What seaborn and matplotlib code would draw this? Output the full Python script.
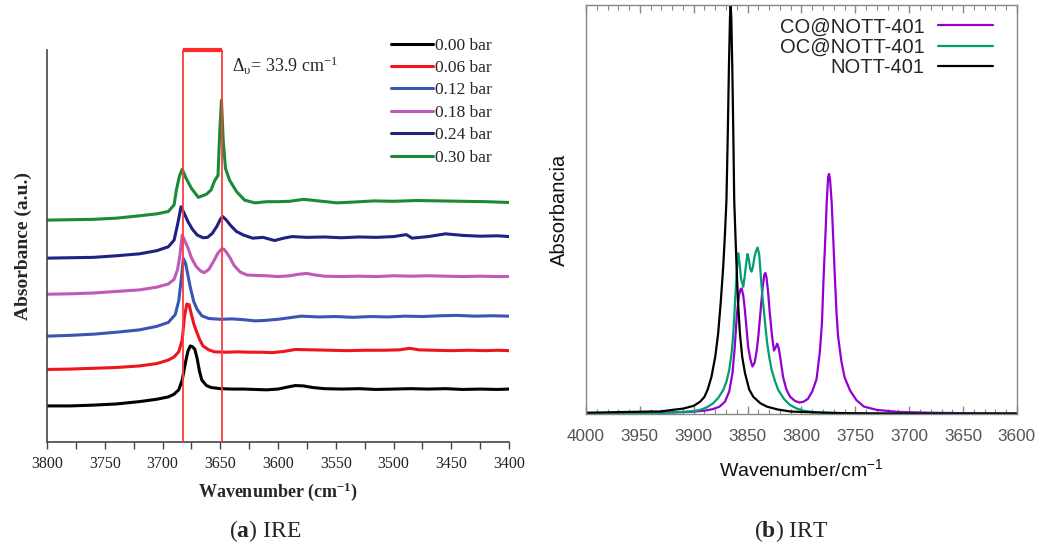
import numpy as np
import pandas as pd
import matplotlib
matplotlib.use("Agg")
import matplotlib.pyplot as plt
import seaborn as sns
from matplotlib.ticker import MultipleLocator

# ---------------- Panel (a) IRE : experimental spectra ----------------
ire_labels = ["0.00 bar", "0.06 bar", "0.12 bar", "0.18 bar", "0.24 bar", "0.30 bar"]
ire_colors = ["#000000", "#f0141c", "#3a55b4", "#c05ab8", "#1e2282", "#1a8a34"]

wn_000 = [3800, 3780, 3760, 3740, 3720, 3705, 3695, 3690, 3686, 3683, 3680, 3678, 3676, 3674, 3672, 3670,
          3668, 3666, 3662, 3658, 3650, 3640, 3630, 3620, 3610, 3600, 3592, 3585, 3578, 3570, 3560, 3545,
          3530, 3515, 3500, 3485, 3470, 3455, 3440, 3425, 3410, 3400]
ab_000 = [0.92, 0.92, 0.94, 0.97, 1.03, 1.09, 1.15, 1.22, 1.33, 1.58, 2.05, 2.32, 2.45, 2.43, 2.36, 2.12,
          1.80, 1.58, 1.44, 1.39, 1.36, 1.35, 1.35, 1.34, 1.33, 1.35, 1.40, 1.44, 1.43, 1.39, 1.36, 1.35,
          1.36, 1.34, 1.35, 1.36, 1.35, 1.36, 1.34, 1.35, 1.34, 1.35]

wn_006 = [3800, 3780, 3760, 3740, 3720, 3705, 3695, 3690, 3686, 3683, 3681, 3679, 3677, 3675, 3673, 3671,
          3668, 3665, 3660, 3655, 3645, 3635, 3625, 3615, 3605, 3595, 3585, 3570, 3555, 3540, 3525, 3510,
          3495, 3486, 3478, 3465, 3450, 3435, 3420, 3410, 3400]
ab_006 = [1.85, 1.86, 1.88, 1.90, 1.94, 2.00, 2.09, 2.17, 2.30, 2.60, 3.20, 3.52, 3.50, 3.25, 3.02, 2.85,
          2.62, 2.45, 2.35, 2.30, 2.29, 2.30, 2.29, 2.29, 2.28, 2.31, 2.36, 2.35, 2.34, 2.33, 2.34, 2.34,
          2.35, 2.39, 2.35, 2.34, 2.33, 2.34, 2.33, 2.34, 2.33]

wn_012 = [3800, 3780, 3760, 3740, 3720, 3705, 3695, 3689, 3686, 3684, 3682, 3680, 3678, 3676, 3673, 3670,
          3666, 3660, 3650, 3640, 3630, 3620, 3612, 3600, 3590, 3580, 3565, 3550, 3535, 3520, 3505, 3490,
          3475, 3460, 3445, 3430, 3415, 3400]
ab_012 = [2.70, 2.72, 2.75, 2.80, 2.86, 2.95, 3.05, 3.25, 3.60, 4.10, 4.68, 4.55, 4.25, 3.95, 3.58, 3.38,
          3.22, 3.15, 3.13, 3.14, 3.12, 3.09, 3.10, 3.13, 3.17, 3.21, 3.19, 3.20, 3.18, 3.20, 3.19, 3.21,
          3.20, 3.22, 3.23, 3.21, 3.22, 3.21]

wn_018 = [3800, 3780, 3760, 3740, 3720, 3705, 3695, 3690, 3687, 3685, 3683, 3681, 3678, 3675, 3671, 3667,
          3664, 3660, 3656, 3652, 3649, 3647, 3645, 3642, 3638, 3633, 3627, 3620, 3610, 3600, 3590, 3582,
          3575, 3568, 3560, 3545, 3530, 3515, 3500, 3485, 3470, 3455, 3440, 3425, 3410, 3400]
ab_018 = [3.77, 3.78, 3.80, 3.84, 3.88, 3.95, 4.03, 4.15, 4.40, 4.75, 5.28, 5.15, 4.95, 4.70, 4.48, 4.36,
          4.32, 4.40, 4.60, 4.82, 4.92, 4.92, 4.85, 4.72, 4.50, 4.34, 4.26, 4.25, 4.24, 4.22, 4.24, 4.28,
          4.30, 4.26, 4.23, 4.22, 4.23, 4.22, 4.24, 4.23, 4.24, 4.23, 4.22, 4.23, 4.22, 4.22]

wn_024 = [3800, 3780, 3760, 3740, 3720, 3705, 3695, 3690, 3687, 3684, 3681, 3678, 3674, 3670, 3665, 3661,
          3657, 3653, 3650, 3648, 3645, 3641, 3636, 3630, 3622, 3613, 3603, 3595, 3588, 3575, 3560, 3545,
          3530, 3515, 3500, 3489, 3484, 3470, 3455, 3440, 3425, 3410, 3400]
ab_024 = [4.69, 4.70, 4.71, 4.75, 4.80, 4.88, 4.98, 5.15, 5.55, 6.00, 5.82, 5.62, 5.42, 5.28, 5.21, 5.22,
          5.32, 5.50, 5.68, 5.75, 5.67, 5.52, 5.37, 5.28, 5.20, 5.22, 5.14, 5.20, 5.24, 5.22, 5.23, 5.21,
          5.23, 5.22, 5.24, 5.29, 5.20, 5.24, 5.31, 5.27, 5.25, 5.26, 5.24]

wn_030 = [3800, 3780, 3760, 3740, 3720, 3705, 3695, 3690, 3688, 3685.5, 3683, 3680, 3675, 3669, 3662, 3658,
          3655, 3652, 3650.5, 3649, 3647.5, 3645.5, 3642, 3636, 3629, 3620, 3610, 3600, 3590, 3578, 3565,
          3549, 3535, 3517, 3500, 3480, 3460, 3440, 3420, 3400]
ab_030 = [5.66, 5.67, 5.68, 5.71, 5.77, 5.82, 5.88, 6.05, 6.43, 6.77, 6.96, 6.75, 6.47, 6.24, 6.32, 6.43,
          6.66, 6.80, 7.90, 8.72, 7.70, 6.98, 6.68, 6.39, 6.17, 6.10, 6.13, 6.13, 6.14, 6.19, 6.15,
          6.10, 6.12, 6.15, 6.14, 6.16, 6.15, 6.14, 6.13, 6.11]

shift_bounds = [3682.4, 3648.5]   # red box marking the 33.9 cm-1 shift
shift_text = "Δ$_{υ}$= 33.9 cm$^{-1}$"

# ---------------- Panel (b) IRT : theoretical spectra ----------------
irt_labels = ["CO@NOTT-401", "OC@NOTT-401", "NOTT-401"]
irt_colors = ["#9400d3", "#009e73", "#000000"]

wn_co = [4000, 3960, 3930, 3905, 3890, 3882, 3876, 3871, 3867, 3864, 3862, 3860, 3858, 3856.5, 3855.5, 3854,
         3852.5, 3851, 3849.5, 3847.5, 3845.5, 3843.5, 3841.5, 3840, 3838, 3836, 3834.5, 3833.5, 3832.5, 3831,
         3829.5, 3827.5, 3825.5, 3823.5, 3822.5, 3821, 3819.5, 3817, 3814, 3810.5, 3806, 3802, 3798, 3794,
         3790, 3786, 3783, 3781, 3779.5, 3778, 3776.5, 3775.2, 3774.4, 3773.5, 3772, 3770.5, 3769, 3767.5,
         3766, 3763, 3760, 3755, 3749, 3742, 3730, 3710, 3680, 3650, 3600]
ab_co = [0.001, 0.002, 0.003, 0.005, 0.008, 0.012, 0.018, 0.03, 0.055, 0.10, 0.16, 0.24, 0.29, 0.305, 0.307, 0.29,
         0.255, 0.21, 0.165, 0.135, 0.116, 0.125, 0.155, 0.19, 0.25, 0.31, 0.34, 0.345, 0.335, 0.30,
         0.25, 0.195, 0.155, 0.165, 0.172, 0.16, 0.135, 0.09, 0.06, 0.042, 0.032, 0.028, 0.03, 0.037,
         0.055, 0.085, 0.15, 0.22, 0.33, 0.42, 0.52, 0.58, 0.587, 0.575, 0.52, 0.43, 0.336, 0.25,
         0.19, 0.13, 0.09, 0.058, 0.034, 0.018, 0.01, 0.005, 0.003, 0.002, 0.001]

wn_oc = [4000, 3960, 3930, 3910, 3900, 3894, 3888, 3882, 3877, 3872.5, 3869.5, 3867, 3865, 3863.7, 3862.5,
         3861.5, 3860, 3858.7, 3857.5, 3856, 3854, 3852.5, 3851, 3850, 3849, 3847.5, 3846.3, 3845, 3843.5,
         3842, 3840.7, 3839.2, 3837.7, 3836.3, 3834.9, 3833.3, 3831.8, 3829.8, 3827.7, 3824.5, 3821.6, 3816,
         3810.6, 3804, 3798, 3790, 3780, 3765, 3750, 3720, 3680, 3640, 3600]
ab_oc = [0.001, 0.002, 0.003, 0.005, 0.007, 0.01, 0.016, 0.026, 0.04, 0.059, 0.08, 0.108, 0.145, 0.181, 0.23,
         0.279, 0.35, 0.393, 0.37, 0.33, 0.311, 0.34, 0.375, 0.391, 0.38, 0.355, 0.348, 0.36, 0.385,
         0.40, 0.407, 0.39, 0.336, 0.29, 0.254, 0.21, 0.173, 0.138, 0.108, 0.08, 0.059, 0.036,
         0.022, 0.013, 0.008, 0.005, 0.003, 0.002, 0.001, 0.001, 0.001, 0.001, 0.001]

wn_nott = [4000, 3960, 3940, 3931, 3920, 3910, 3900, 3894, 3890, 3887, 3883.5, 3880, 3877.3, 3875, 3872.6,
           3871, 3869.6, 3868.4, 3867.3, 3866.3, 3865.7, 3865.1, 3864.2, 3863.2, 3862.4, 3861.3, 3860.2,
           3858.8, 3857.1, 3855, 3852.4, 3848.5, 3844.7, 3838, 3832, 3822, 3810, 3790, 3760, 3720, 3680,
           3640, 3600]
ab_nott = [0.003, 0.005, 0.006, 0.006, 0.010, 0.013, 0.020, 0.030, 0.042, 0.06, 0.091, 0.14, 0.197, 0.27, 0.36,
           0.44, 0.523, 0.68, 0.85, 0.97, 1.0, 0.97, 0.85, 0.68, 0.523, 0.44, 0.36,
           0.27, 0.197, 0.14, 0.10, 0.06, 0.042, 0.026, 0.018, 0.011, 0.006, 0.004, 0.002, 0.001, 0.001,
           0.001, 0.001]

# ---------------- build long-form tables ----------------
ire_series = [(wn_000, ab_000), (wn_006, ab_006), (wn_012, ab_012),
              (wn_018, ab_018), (wn_024, ab_024), (wn_030, ab_030)]
df_ire = pd.concat([pd.DataFrame({"wn": w, "A": a, "p": lab})
                    for (w, a), lab in zip(ire_series, ire_labels)], ignore_index=True)
irt_series = [(wn_co, ab_co), (wn_oc, ab_oc), (wn_nott, ab_nott)]
df_irt = pd.concat([pd.DataFrame({"wn": w, "A": a, "s": lab})
                    for (w, a), lab in zip(irt_series, irt_labels)], ignore_index=True)

# ---------------- style ----------------
sns.set_theme(style="ticks")
plt.rcParams["font.family"] = ["Liberation Serif", "DejaVu Serif"]
plt.rcParams["mathtext.fontset"] = "custom"
plt.rcParams["mathtext.default"] = "regular"
plt.rcParams["mathtext.bf"] = "Liberation Serif:bold"
plt.rcParams["mathtext.rm"] = "Liberation Serif"

SERIF = ["Liberation Serif", "DejaVu Serif"]
SANS = ["Liberation Sans", "DejaVu Sans"]

fig = plt.figure(figsize=(10.43, 5.5), dpi=100)
axL = fig.add_axes([0.0451, 0.1964, 0.4430, 0.7127])
axR = fig.add_axes([0.5618, 0.2473, 0.4132, 0.7436])

# ---------------- panel (a) ----------------
sns.lineplot(data=df_ire, x="wn", y="A", hue="p", hue_order=ire_labels,
             palette=dict(zip(ire_labels, ire_colors)), sort=False, estimator=None,
             lw=2.2, ax=axL, legend=True)
axL.set_xlim(3800, 3400)
axL.set_ylim(0, 10)
axL.vlines(shift_bounds, 0, 10, colors="#ff3b3b", lw=1.3, zorder=5)
axL.hlines(10, shift_bounds[0], shift_bounds[1], colors="#ff2a2a", lw=3, zorder=5, clip_on=False)
axL.text(3640, 9.6, shift_text, fontsize=13, family=SERIF, ha="left", va="center")

axL.xaxis.set_major_locator(MultipleLocator(50))
axL.xaxis.set_minor_locator(MultipleLocator(25))
axL.set_yticks([])
axL.tick_params(axis="x", which="both", direction="out", length=5, width=1, color="#444",
                labelsize=11.5, labelcolor="#222", pad=5)
for lbl in axL.get_xticklabels():
    lbl.set_family(SERIF)
for sp in ["top", "right"]:
    axL.spines[sp].set_visible(False)
for sp in ["left", "bottom"]:
    axL.spines[sp].set_color("#444")
    axL.spines[sp].set_linewidth(1.2)
axL.set_xlabel("Wavenumber (cm$^{-1}$)", fontsize=13, fontweight="bold", family=SERIF, labelpad=6)
axL.set_ylabel("Absorbance (a.u.)", fontsize=14, fontweight="bold", family=SERIF, labelpad=11)

legL = axL.get_legend()
hL = legL.legend_handles
tL = [t.get_text() for t in legL.get_texts()]
legL = axL.legend(hL, tL, loc="upper right", bbox_to_anchor=(0.963, 1.032), frameon=False,
                  prop={"family": SERIF, "size": 12.5}, handlelength=2.4, handletextpad=0.12,
                  labelspacing=0.36, borderaxespad=0, borderpad=0)
for h in legL.legend_handles:
    h.set_linewidth(2.2)

# ---------------- panel (b) ----------------
sns.lineplot(data=df_irt, x="wn", y="A", hue="s", hue_order=irt_labels,
             palette=dict(zip(irt_labels, irt_colors)), sort=False, estimator=None,
             lw=1.6, ax=axR, legend=True)
axR.set_xlim(4000, 3600)
axR.set_ylim(0, 1)
axR.xaxis.set_major_locator(MultipleLocator(50))
axR.xaxis.set_minor_locator(MultipleLocator(10))
axR.set_yticks([])
axR.tick_params(axis="x", which="major", direction="in", length=6, width=1, color="#888",
                top=True, bottom=True, labelsize=12.3, labelcolor="#555", pad=11)
axR.tick_params(axis="x", which="minor", direction="in", length=3.5, width=0.8, color="#888",
                top=True, bottom=True)
for lbl in axR.get_xticklabels():
    lbl.set_family(SANS)
for sp in axR.spines.values():
    sp.set_visible(True)
    sp.set_color("#888")
    sp.set_linewidth(1.0)
axR.set_xlabel("Wavenumber/cm$^{-1}$", fontsize=14, family=SANS, color="#111", labelpad=10)
axR.set_ylabel("Absorbancia", fontsize=14.5, family=SANS, color="#111", labelpad=12)

legR = axR.get_legend()
hR = legR.legend_handles
tR = [t.get_text() for t in legR.get_texts()]
legR = axR.legend(hR, tR, loc="upper right", bbox_to_anchor=(0.944, 0.97), frameon=False,
                  prop={"family": SANS, "size": 14.5}, handlelength=2.7, handletextpad=0.7,
                  labelspacing=0.07, borderaxespad=0, borderpad=0, markerfirst=False)
for h in legR.legend_handles:
    h.set_linewidth(1.6)

# ---------------- captions ----------------
fig.text(0.254, 0.034, r"($\mathbf{a}$) IRE", ha="center", va="center", fontsize=17, family=SERIF)
fig.text(0.759, 0.034, r"($\mathbf{b}$) IRT", ha="center", va="center", fontsize=17, family=SERIF)

fig.savefig("out.png", dpi=100)
